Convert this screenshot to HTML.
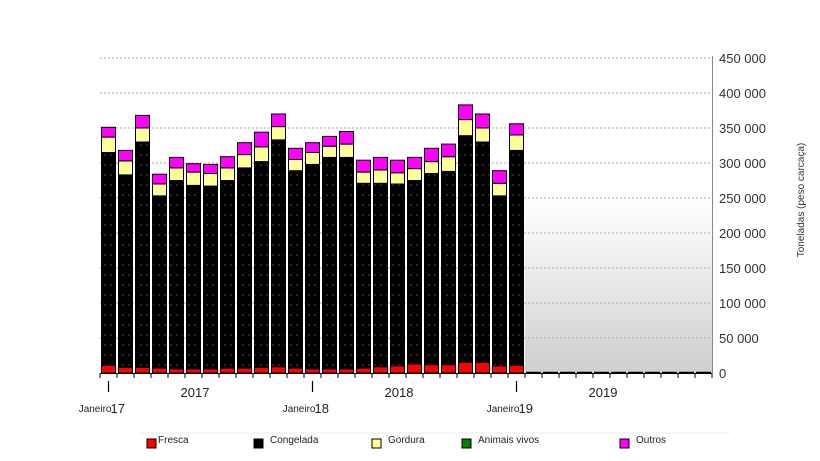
<!DOCTYPE html>
<html><head><meta charset="utf-8">
<style>
body{margin:0;background:#fff;width:820px;height:461px;overflow:hidden;font-family:"Liberation Sans",sans-serif;}
svg{display:block}
</style></head>
<body>
<svg id="chart" width="820" height="461" viewBox="0 0 820 461" xmlns="http://www.w3.org/2000/svg">
<defs>
<pattern id="dots" width="6" height="10" patternUnits="userSpaceOnUse">
<rect width="6" height="10" fill="#000"/>
<circle cx="3" cy="5" r="0.6" fill="#888"/>
</pattern>
<linearGradient id="bg" x1="0" y1="0" x2="0" y2="1">
<stop offset="0" stop-color="#fff"/>
<stop offset="1" stop-color="#cfcfcf"/>
</linearGradient>
</defs>
<g id="grid"></g>
<g id="bars"></g>
<g id="axis"></g>
<g id="legend"></g>
</svg>
<script>
const months = ["Jan17","Fev17","Mar17","Abr17","Mai17","Jun17","Jul17","Ago17","Set17","Out17","Nov17","Dez17","Jan18","Fev18","Mar18","Abr18","Mai18","Jun18","Jul18","Ago18","Set18","Out18","Nov18","Dez18","Jan19"];
const fresca    = [11000,8000,8000,7000,6000,6000,6000,7000,7000,8000,9000,7000,6000,6000,6000,7000,9000,10000,13000,12000,12000,15000,15000,10000,11000];
const congelada = [304000,275000,322000,246000,269000,262000,261000,268000,286000,294000,324000,282000,292000,302000,302000,264000,262000,260000,262000,273000,276000,324000,315000,243000,307000];
const gordura   = [22000,20000,20000,17000,18000,19000,18000,18000,19000,21000,19000,16000,17000,16000,19000,16000,19000,16000,17000,17000,21000,23000,20000,18000,22000];
const animais   = [0,0,0,0,0,0,0,0,0,0,0,0,0,0,0,0,0,0,0,0,0,0,0,0,0];
const outros    = [14000,15000,18000,14000,15000,12000,13000,16000,17000,21000,18000,16000,14000,14000,18000,17000,18000,18000,16000,19000,18000,21000,20000,18000,16000];
const yTicks = [0,50000,100000,150000,200000,250000,300000,350000,400000,450000];
const yearLabels = ["2017","2018","2019"];
const janLabels = ["17","18","19"];

const NS="http://www.w3.org/2000/svg";
const X0=100, SLOT=17, NSLOT=36, Y0=373, YTOP=58, YMAX=450000;
const y = v => Y0 - v/YMAX*(Y0-YTOP);
const xs = i => X0 + i*SLOT;
function mk(tag, attrs, parent){const e=document.createElementNS(NS,tag);for(const k in attrs)e.setAttribute(k,attrs[k]);parent.appendChild(e);return e;}
const grid=document.getElementById('grid'), bars=document.getElementById('bars'), axis=document.getElementById('axis'), legend=document.getElementById('legend');

let bgr=mk('rect',{x:xs(25),y:y(250000),width:xs(NSLOT)-xs(25),height:Y0-y(250000),fill:'url(#bg)'},grid);



yTicks.forEach(t=>{
  if(t>0){let l=mk('line',{x1:X0,x2:xs(NSLOT),y1:y(t),y2:y(t),stroke:'#aaa','stroke-dasharray':'2,2','stroke-width':1},grid);
  
  }
  let tx=mk('text',{x:719,y:y(t)+5,'font-size':13,fill:'#333'},axis);
  tx.textContent=t===0?'0':(t/1000)+' 000';
  
  
});

const series=[['fresca',fresca,'#ff0000'],['congelada',congelada,'url(#dots)'],['gordura',gordura,'#ffff99'],['animais-vivos',animais,'#008000'],['outros',outros,'#ff00ff']];
months.forEach((m,i)=>{
  let acc=0;
  const bx=xs(i)+1.5, bw=SLOT-3;
  series.forEach(([nm,arr,col])=>{
    const v=arr[i]; if(v<=0) return;
    let r=mk('rect',{x:bx,y:y(acc+v),width:bw,height:y(acc)-y(acc+v),fill:col,stroke:'#000','stroke-width':1},bars);
    
    
    acc+=v;
  });
});
for(let i=25;i<NSLOT;i++){
  let l=mk('line',{x1:xs(i)+1,x2:xs(i+1)-1,y1:Y0-0.5,y2:Y0-0.5,stroke:'#000','stroke-width':1.5},bars);
  
  
}

let ax=mk('line',{x1:X0,x2:xs(NSLOT),y1:Y0+0.5,y2:Y0+0.5,stroke:'#000'},axis);


let ay=mk('line',{x1:712.5,x2:712.5,y1:YTOP-2,y2:Y0,stroke:'#888'},axis);


for(let i=0;i<=NSLOT;i++){
  let t=mk('line',{x1:xs(i),x2:xs(i),y1:Y0,y2:Y0+5,stroke:'#000'},axis);
  
  
}
yearLabels.forEach((yl,k)=>{
  const cx=xs(k*12+6)-7;
  let t=mk('text',{x:cx,y:397,'font-size':13,fill:'#222','text-anchor':'middle'},axis);
  t.textContent=yl;
  
  
  const jx=xs(k*12)+SLOT/2;
  let b=mk('line',{x1:jx,x2:jx,y1:381,y2:392,stroke:'#000','stroke-width':1.2},axis);
  
  
  let j=mk('text',{x:jx+3,y:412,'font-size':10,fill:'#222','text-anchor':'end'},axis);
  j.textContent='Janeiro';
  
  
  let j2=mk('text',{x:jx+2,y:413,'font-size':13,fill:'#222'},axis);
  j2.textContent=janLabels[k];
  
  
});
let yt=mk('text',{x:0,y:0,'font-size':10,fill:'#333','text-anchor':'middle',transform:'translate(804,200) rotate(-90)'},axis);
yt.textContent='Toneladas (peso carcaça)';



let lbg=mk('line',{x1:140,x2:730,y1:433,y2:433,stroke:'#eee'},legend);


const leg=[['Fresca','#ff0000',147],['Congelada','#000',254],['Gordura','#ffff99',372],['Animais vivos','#008000',462],['Outros','#ff00ff',620]];
leg.forEach(([n,c,lx])=>{
  let r=mk('rect',{x:lx,y:439,width:9,height:9,fill:c,stroke:'#000'},legend);
  
  
  let t=mk('text',{x:lx+11+(n==='Fresca'?0:5),y:443,'font-size':10,fill:'#222'},legend);
  t.textContent=n;
  
  
});
</script>
</body></html>
